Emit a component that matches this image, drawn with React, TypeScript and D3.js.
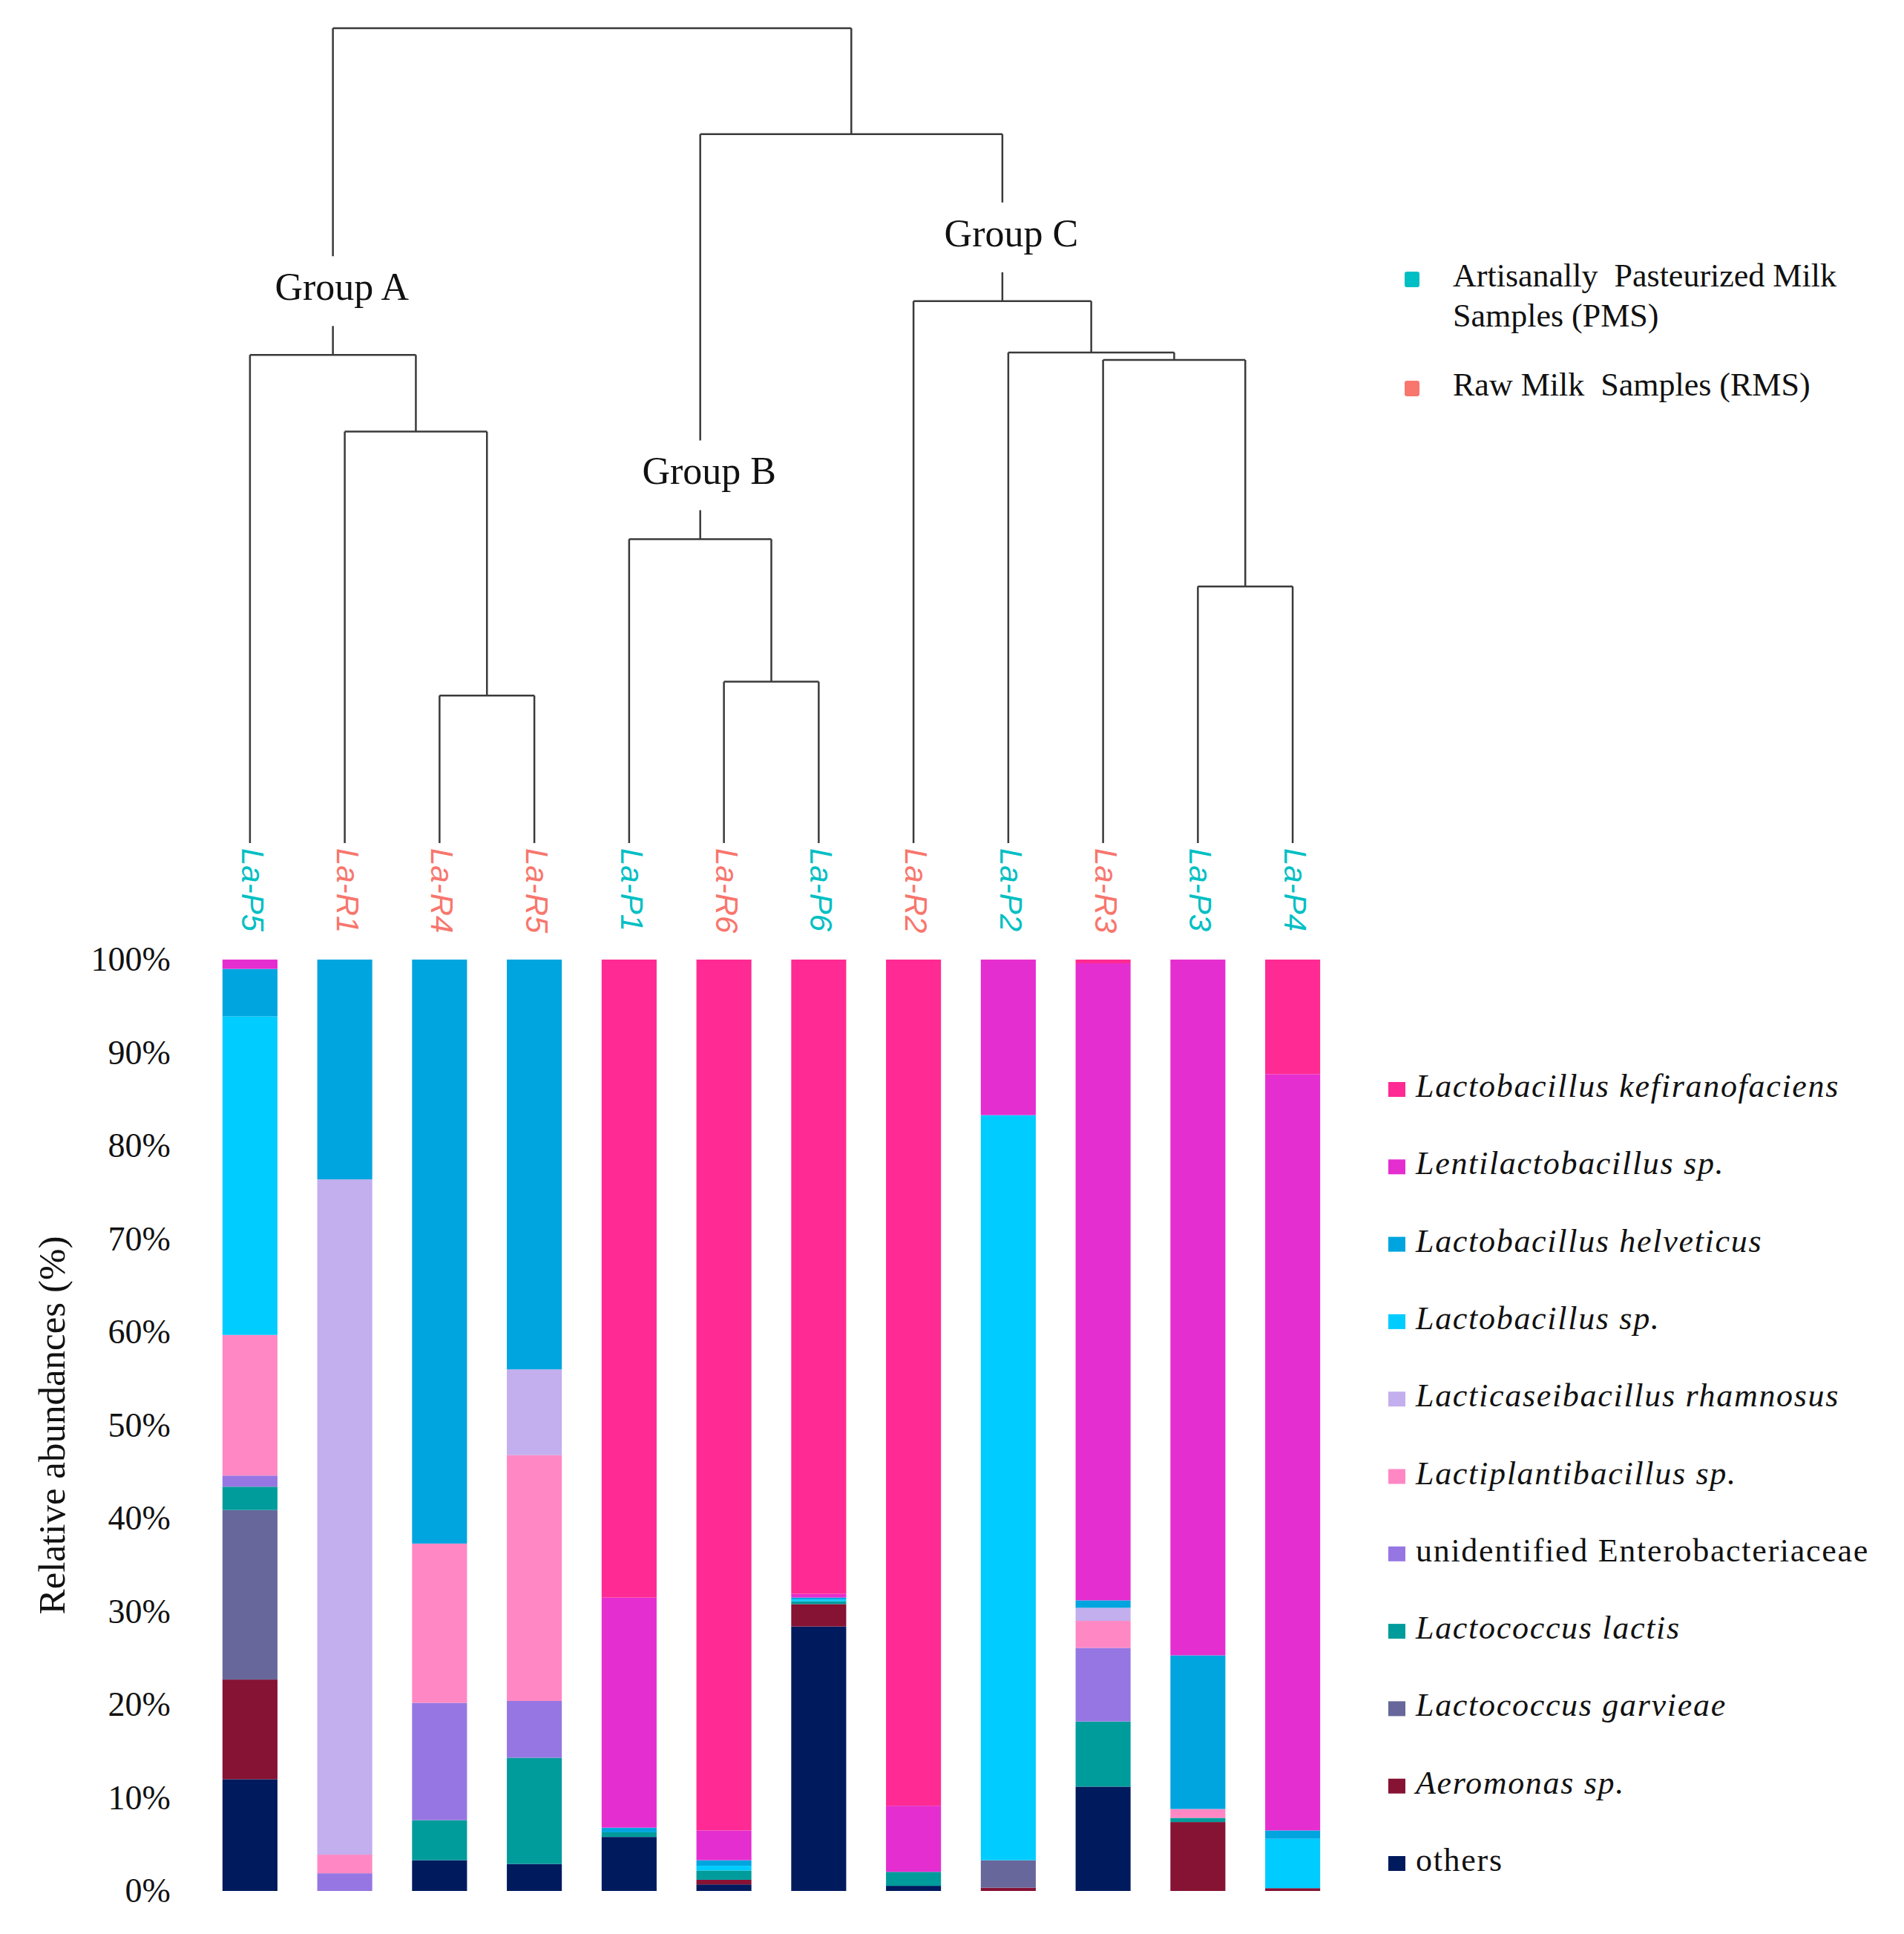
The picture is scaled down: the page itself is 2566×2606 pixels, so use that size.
import { useEffect, useRef } from "react"
import * as d3 from "d3"

const samples = ["La-P5", "La-R1", "La-R4", "La-R5", "La-P1", "La-R6", "La-P6", "La-R2", "La-P2", "La-R3", "La-P3", "La-P4"]

// relative abundances (%) per sample, same order as samples
const others = [12.0, 0, 3.3, 2.9, 5.8, 0.7, 28.4, 0.55, 0, 11.2, 0, 0]
const aeromonas = [10.7, 0, 0, 0, 0, 0.5, 2.4, 0, 0.35, 0, 7.4, 0.3]
const garvieae = [18.2, 0, 0, 0, 0, 0, 0, 0, 2.95, 0, 0, 0]
const lactis = [2.5, 0, 4.3, 11.4, 0.5, 1.0, 0.3, 1.5, 0, 7.0, 0.45, 0]
const entero = [1.2, 1.9, 12.6, 6.1, 0, 0, 0, 0, 0, 7.9, 0, 0]
const plantarum = [15.1, 2.0, 17.1, 26.4, 0, 0, 0, 0, 0, 2.9, 0.95, 0]
const rhamnosus = [0, 72.5, 0, 9.2, 0, 0, 0, 0, 0, 1.4, 0, 0]
const lactoSp = [34.2, 0, 0, 0, 0, 0.5, 0.2, 0, 80.0, 0, 0, 5.3]
const helveticus = [5.1, 23.6, 62.7, 44.0, 0.5, 0.6, 0.2, 0, 0, 0.8, 16.5, 0.9]
const lenti = [1.0, 0, 0, 0, 24.7, 3.2, 0.4, 7.1, 16.7, 68.4, 74.7, 81.2]
const kefiran = [0, 0, 0, 0, 68.5, 93.5, 68.1, 90.85, 0, 0.4, 0, 12.3]

// bottom to top
const species = [
  { key: "others", label: "others", italic: false, color: "#001A5E", values: others },
  { key: "aero", label: "Aeromonas sp.", italic: true, color: "#861234", values: aeromonas },
  { key: "garv", label: "Lactococcus garvieae", italic: true, color: "#67679B", values: garvieae },
  { key: "lactis", label: "Lactococcus lactis", italic: true, color: "#009B9B", values: lactis },
  { key: "entero", label: "unidentified Enterobacteriaceae", italic: false, color: "#9676E2", values: entero },
  { key: "plant", label: "Lactiplantibacillus sp.", italic: true, color: "#FF88C4", values: plantarum },
  { key: "rham", label: "Lacticaseibacillus rhamnosus", italic: true, color: "#C3AEEE", values: rhamnosus },
  { key: "lsp", label: "Lactobacillus sp.", italic: true, color: "#00CCFF", values: lactoSp },
  { key: "helv", label: "Lactobacillus helveticus", italic: true, color: "#00A5DF", values: helveticus },
  { key: "lenti", label: "Lentilactobacillus sp.", italic: true, color: "#E52ECF", values: lenti },
  { key: "kef", label: "Lactobacillus kefiranofaciens", italic: true, color: "#FF2A93", values: kefiran },
]

const yTicks = [0, 10, 20, 30, 40, 50, 60, 70, 80, 90, 100]

const sampleTypes = [
  { lines: ["Artisanally  Pasteurized Milk", "Samples (PMS)"], color: "#00BFC4" },
  { lines: ["Raw Milk  Samples (RMS)"], color: "#F8766D" },
]

// dendrogram, merge heights relative to root = 1
const tree = {
  h: 1.0,
  children: [
    {
      h: 0.599, label: "Group A",
      children: [
        { leaf: "La-P5" },
        { h: 0.505, children: [{ leaf: "La-R1" }, { h: 0.181, children: [{ leaf: "La-R4" }, { leaf: "La-R5" }] }] },
      ],
    },
    {
      h: 0.87,
      children: [
        {
          h: 0.373, label: "Group B",
          children: [{ leaf: "La-P1" }, { h: 0.198, children: [{ leaf: "La-R6" }, { leaf: "La-P6" }] }],
        },
        {
          h: 0.665, label: "Group C",
          children: [
            { leaf: "La-R2" },
            {
              h: 0.602,
              children: [
                { leaf: "La-P2" },
                { h: 0.593, children: [{ leaf: "La-R3" }, { h: 0.315, children: [{ leaf: "La-P3" }, { leaf: "La-P4" }] }] },
              ],
            },
          ],
        },
      ],
    },
  ],
}

const W = 2566
const H = 2606
const serif = "'Liberation Serif', 'Times New Roman', serif"
const sans = "'Liberation Sans', Arial, sans-serif"

export default function App() {
  const svgRef = useRef<SVGSVGElement>(null)

  useEffect(() => {
    if (!svgRef.current) return
    const svg = d3.select(svgRef.current)
    svg.selectAll("*").remove()

    const x = d3.scaleBand<string>().domain(samples).range([273, 1806]).paddingInner(0.42).paddingOuter(0.21)
    const y = d3.scaleLinear().domain([0, 100]).range([2548, 1293])
    const cx = (s: string) => (x(s) || 0) + x.bandwidth() / 2

    // stacked bars
    const rows = samples.map((s, i) => {
      const r: any = { sample: s }
      species.forEach((sp) => (r[sp.key] = sp.values[i]))
      return r
    })
    const stack = d3.stack().keys(species.map((s) => s.key))(rows)

    const bars = svg.append("g")
    stack.forEach((layer, li) => {
      bars
        .append("g")
        .attr("fill", species[li].color)
        .selectAll("rect")
        .data(layer.filter((d) => d[1] - d[0] > 0))
        .enter()
        .append("rect")
        .attr("x", (d: any) => x(d.data.sample) || 0)
        .attr("y", (d) => y(d[1]))
        .attr("width", x.bandwidth())
        .attr("height", (d) => y(d[0]) - y(d[1]))
    })

    // y axis
    const yAxis = svg
      .append("g")
      .attr("transform", `translate(${x(samples[0])},0)`)
      .call(d3.axisLeft(y).tickValues(yTicks).tickSize(0).tickPadding(70).tickFormat((d) => `${d}%`))
    yAxis.select(".domain").remove()
    yAxis.selectAll("text").attr("font-family", serif).attr("font-size", 46).attr("fill", "#111")

    svg
      .append("text")
      .attr("transform", `translate(75,${(y(0) + y(100)) / 2}) rotate(-90)`)
      .attr("text-anchor", "middle")
      .attr("dominant-baseline", "middle")
      .attr("font-family", serif)
      .attr("font-size", 51)
      .attr("fill", "#111")
      .text("Relative abundances (%)")

    // dendrogram
    const hy = d3.scaleLinear().domain([0, 1]).range([1136, 38])
    const root = d3.hierarchy<any>(tree)
    const pos = new Map<any, { x: number; y: number }>()
    root.eachAfter((n) => {
      if (!n.children) pos.set(n, { x: cx(n.data.leaf), y: hy(0) })
      else {
        const xs = n.children.map((c) => pos.get(c)!.x)
        pos.set(n, { x: (xs[0] + xs[xs.length - 1]) / 2, y: hy(n.data.h) })
      }
    })

    const dg = svg.append("g").attr("stroke", "#3a3a3a").attr("stroke-width", 2.5).attr("fill", "none")
    const gap = 47
    const labelOffset = 86
    root.each((n) => {
      const p = pos.get(n)!
      if (n.children) {
        const a = pos.get(n.children[0])!
        const b = pos.get(n.children[n.children.length - 1])!
        dg.append("line").attr("x1", a.x).attr("x2", b.x).attr("y1", p.y).attr("y2", p.y)
      }
      if (n.parent) {
        const pp = pos.get(n.parent)!
        if (n.data.label) {
          const ly = p.y - labelOffset
          dg.append("line").attr("x1", p.x).attr("x2", p.x).attr("y1", pp.y).attr("y2", ly - gap)
          dg.append("line").attr("x1", p.x).attr("x2", p.x).attr("y1", ly + gap).attr("y2", p.y)
          svg
            .append("text")
            .attr("x", p.x + 12)
            .attr("y", ly)
            .attr("text-anchor", "middle")
            .attr("dominant-baseline", "middle")
            .attr("font-family", serif)
            .attr("font-size", 52)
            .attr("fill", "#111")
            .text(n.data.label)
        } else {
          dg.append("line").attr("x1", p.x).attr("x2", p.x).attr("y1", pp.y).attr("y2", p.y)
        }
      }
    })

    // leaf labels
    svg
      .append("g")
      .selectAll("text")
      .data(samples)
      .enter()
      .append("text")
      .attr("transform", (s) => `translate(${cx(s)},1143) rotate(90)`)
      .attr("dominant-baseline", "middle")
      .attr("font-family", sans)
      .attr("font-style", "italic")
      .attr("font-size", 42)
      .attr("fill", (s) => (s.includes("-P") ? sampleTypes[0].color : sampleTypes[1].color))
      .text((s) => s)

    // sample type legend
    const tl = svg.append("g")
    const typeY = [376, 523]
    sampleTypes.forEach((t, i) => {
      tl.append("rect")
        .attr("x", 1893)
        .attr("y", typeY[i] - 10)
        .attr("width", 20)
        .attr("height", 21)
        .attr("rx", 3)
        .attr("fill", t.color)
      t.lines.forEach((ln, j) => {
        tl.append("text")
          .attr("x", 1958)
          .attr("y", typeY[i] + j * 54)
          .attr("dominant-baseline", "middle")
          .attr("font-family", serif)
          .attr("font-size", 44)
          .attr("fill", "#111")
          .style("white-space", "pre")
          .text(ln)
      })
    })

    // species legend
    const legendItems = [...species].reverse()
    const ly = d3.scaleLinear().domain([0, legendItems.length - 1]).range([1468, 2511])
    const lg = svg.append("g")
    legendItems.forEach((sp, i) => {
      lg.append("rect").attr("x", 1871).attr("y", ly(i) - 10).attr("width", 23).attr("height", 20).attr("fill", sp.color)
      lg.append("text")
        .attr("x", 1908)
        .attr("y", ly(i))
        .attr("dominant-baseline", "middle")
        .attr("font-family", serif)
        .attr("font-style", sp.italic ? "italic" : "normal")
        .attr("font-size", 44)
        .attr("letter-spacing", 1.7)
        .attr("fill", "#111")
        .text(sp.label)
    })
  }, [])

  return (
    <svg
      ref={svgRef}
      width={W}
      height={H}
      style={{ position: "absolute", left: 0, top: 0, background: "#fff" }}
    />
  )
}
